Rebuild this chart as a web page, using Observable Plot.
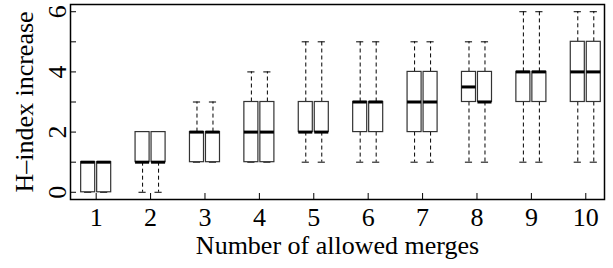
<!DOCTYPE html>
<html><head><meta charset="utf-8">
<script src="https://cdn.jsdelivr.net/npm/d3@7"></script>
<script src="https://cdn.jsdelivr.net/npm/@observablehq/plot@0.6"></script>
<style>body{margin:0;background:#fff}</style>
</head><body><div id="chart"></div>
<script>
// Categories
const merges = [1, 2, 3, 4, 5, 6, 7, 8, 9, 10];
const seriesNames = ["A", "B"];
// Series A box statistics
const lowA = [0, 0, 1, 1, 1, 1, 1, 1, 1, 1];
const q1A  = [0, 1, 1, 1, 2, 2, 2, 3, 3, 3];
const medA = [1, 1, 2, 2, 2, 3, 3, 3.5, 4, 4];
const q3A  = [1, 2, 2, 3, 3, 3, 4, 4, 4, 5];
const highA = [1, 2, 3, 4, 5, 5, 5, 5, 6, 6];
// Series B box statistics
const lowB = [0, 0, 1, 1, 1, 1, 1, 1, 1, 1];
const q1B  = [0, 1, 1, 1, 2, 2, 2, 3, 3, 3];
const medB = [1, 1, 2, 2, 2, 3, 3, 3, 4, 4];
const q3B  = [1, 2, 2, 3, 3, 3, 4, 4, 4, 5];
const highB = [1, 2, 3, 4, 5, 5, 5, 5, 6, 6];
// Ticks and labels
const yTicks = [0, 1, 2, 3, 4, 5, 6];
const yTickLabels = [0, 2, 4, 6];
const xLabel = "Number of allowed merges";
const yLabel = "H–index increase";

// Layout (styles)
const offset = {A: -0.147, B: 0.147};
const halfBox = 0.129, halfCap = 0.066;
const FONT = 26;

const stats = {
  A: {low: lowA, q1: q1A, med: medA, q3: q3A, high: highA},
  B: {low: lowB, q1: q1B, med: medB, q3: q3B, high: highB}
};
const rows = [];
for (const s of seriesNames) {
  merges.forEach((m, i) => {
    rows.push({
      c: m + offset[s],
      low: stats[s].low[i], q1: stats[s].q1[i], med: stats[s].med[i],
      q3: stats[s].q3[i], high: stats[s].high[i]
    });
  });
}

const chart = Plot.plot({
  width: 613, height: 268,
  marginLeft: 70, marginRight: 9, marginTop: 4, marginBottom: 69,
  x: {domain: [0.528, 10.344]},
  y: {domain: [-0.24, 6.24]},
  style: {fontFamily: "Liberation Serif", fontSize: FONT + "px", background: "#fff", color: "#000"},
  marks: [
    // whiskers
    Plot.ruleX(rows, {x: "c", y1: "q3", y2: "high", stroke: "#000", strokeWidth: 1, strokeDasharray: "4,3"}),
    Plot.ruleX(rows, {x: "c", y1: "q1", y2: "low", stroke: "#000", strokeWidth: 1, strokeDasharray: "4,3"}),
    // staples
    Plot.ruleY(rows, {y: "high", x1: d => d.c - halfCap, x2: d => d.c + halfCap, stroke: "#000", strokeWidth: 1}),
    Plot.ruleY(rows, {y: "low", x1: d => d.c - halfCap, x2: d => d.c + halfCap, stroke: "#000", strokeWidth: 1}),
    // boxes
    Plot.rect(rows, {x1: d => d.c - halfBox, x2: d => d.c + halfBox, y1: "q1", y2: "q3", fill: "#fff", stroke: "#333", strokeWidth: 1.2}),
    // medians
    Plot.ruleY(rows, {y: "med", x1: d => d.c - halfBox, x2: d => d.c + halfBox, stroke: "#000", strokeWidth: 3}),
    // axes ticks (inward)
    Plot.axisX(merges, {anchor: "bottom", tickSize: -6, fill: "none", label: null, stroke: "#000"}),
    Plot.axisY(yTicks, {anchor: "left", tickSize: -6, fill: "none", label: null, stroke: "#000"}),
    // tick labels
    Plot.text(merges, {x: d => d, frameAnchor: "bottom", dy: 26, lineAnchor: "bottom", text: d => String(d), fontSize: FONT, fill: "#000"}),
    Plot.text(yTickLabels, {y: d => d, frameAnchor: "left", dx: -5, rotate: -90, lineAnchor: "bottom", textAnchor: "middle", text: d => String(d), fontSize: FONT, fill: "#000"}),
    // axis titles
    Plot.text([xLabel], {frameAnchor: "bottom", dy: 54, lineAnchor: "bottom", text: d => d, fontSize: FONT, fill: "#000"}),
    Plot.text([yLabel], {frameAnchor: "left", dx: -38, rotate: -90, lineAnchor: "bottom", textAnchor: "middle", text: d => d, fontSize: FONT, fill: "#000"}),
    Plot.frame({stroke: "#000", strokeWidth: 1.5})
  ]
});
document.getElementById("chart").appendChild(chart);
</script>
</body></html>
